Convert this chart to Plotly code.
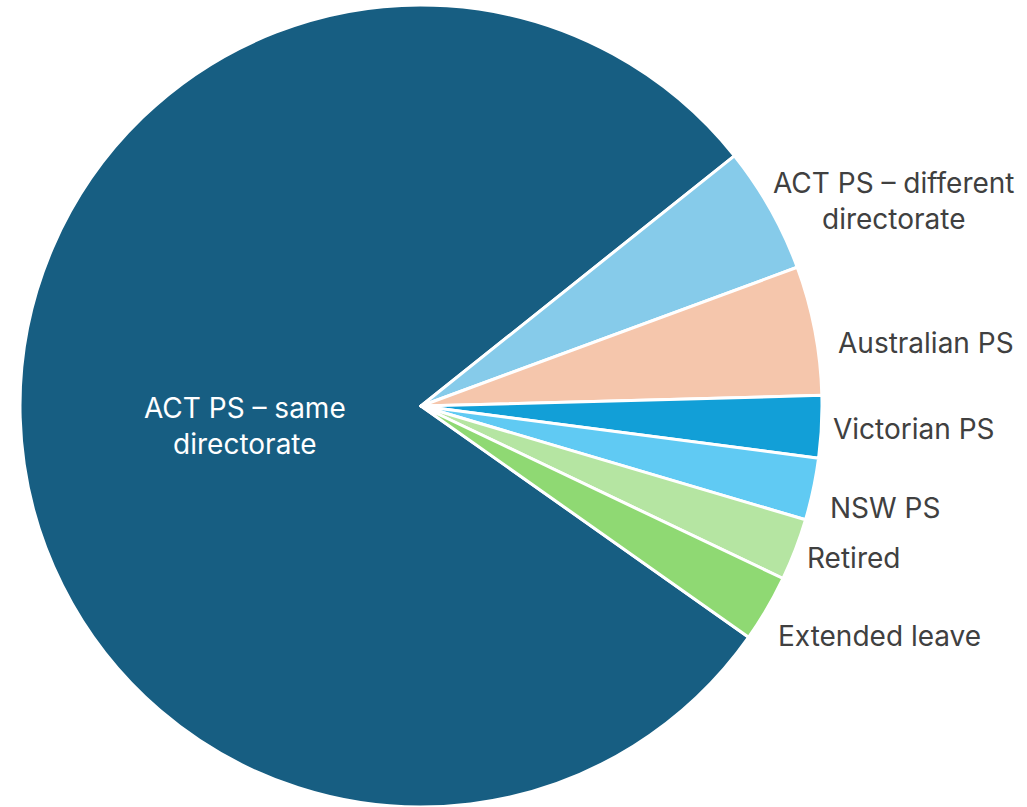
import plotly.graph_objects as go

categories = ["ACT PS – same directorate", "ACT PS – different directorate", "Australian PS",
              "Victorian PS", "NSW PS", "Retired", "Extended leave"]
values = [79.5, 5.1, 5.2, 2.5, 2.5, 2.5, 2.7]
label_text = ["ACT PS – same<br>directorate", "ACT PS – different<br>directorate", "Australian PS",
              "Victorian PS", "NSW PS", "Retired", "Extended leave"]
colors = ["#175E82", "#86CBEA", "#F5C6AC", "#129FD7", "#60CAF3", "#B5E5A2", "#8FD973"]

W, H = 1027, 807
cx, cy, r = 421, 406, 401

fig = go.Figure(go.Pie(
    labels=categories, values=values, sort=False, direction="clockwise",
    rotation=125.2, textinfo="none", hoverinfo="label+percent",
    marker=dict(colors=colors, line=dict(color="white", width=3)),
    domain=dict(x=[(cx - r) / W, (cx + r) / W], y=[(H - cy - r) / H, (H - cy + r) / H]),
    showlegend=False,
))

# label anchor positions (pixels) for each category
label_px = [(245, 426), (894, 201), (926, 343), (914, 429), (885, 508), (853, 558), (879, 636)]
font_family = "Inter, Roboto, sans-serif"
for i, (txt, (px, py)) in enumerate(zip(label_text, label_px)):
    fig.add_annotation(
        x=px / W, y=1 - py / H, xref="paper", yref="paper", text=txt, showarrow=False,
        xanchor="center", yanchor="middle", align="center",
        font=dict(family=font_family, size=28, color="white" if i == 0 else "#404040"),
    )

fig.update_layout(width=W, height=H, margin=dict(l=0, r=0, t=0, b=0),
                  paper_bgcolor="white", plot_bgcolor="white")
fig.write_html("out.html", config={"displayModeBar": False},
               post_script="document.body.style.margin='0px';")
